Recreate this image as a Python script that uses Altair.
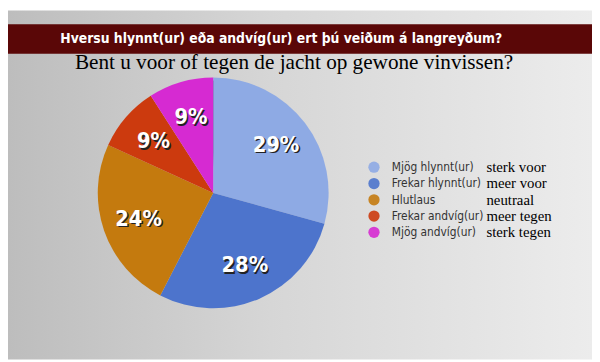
import altair as alt
import pandas as pd

cats_is = ["Mjög hlynnt(ur)", "Frekar hlynnt(ur)", "Hlutlaus", "Frekar andvíg(ur)", "Mjög andvíg(ur)"]
cats_nl = ["sterk voor", "meer voor", "neutraal", "meer tegen", "sterk tegen"]
values = [29, 28, 24, 9, 9]
labels = ["29%", "28%", "24%", "9%", "9%"]
colors = ["#8eaae4", "#4d74cc", "#c47a0e", "#cc3a0e", "#d62ad2"]

title_is = "Hversu hlynnt(ur) eða andvíg(ur) ert þú veiðum á langreyðum?"
title_nl = "Bent u voor of tegen de jacht op gewone vinvissen?"

COND = "'DejaVu Sans Condensed', 'Liberation Sans Narrow', Roboto, sans-serif"

W, H = 592, 354
df = pd.DataFrame({"cat": cats_is, "nl": cats_nl, "value": values,
                   "label": labels, "idx": list(range(len(values)))})

color_scale = alt.Scale(domain=cats_is, range=colors)
base = alt.Chart(df)

bg = alt.Chart(pd.DataFrame({"a": [0]})).mark_rect(
    color=alt.LinearGradient(gradient="linear", x1=0, x2=1, y1=0, y2=0,
                             stops=[alt.GradientStop(offset=0, color="#bdbdbd"),
                                    alt.GradientStop(offset=0.45, color="#d6d6d6"),
                                    alt.GradientStop(offset=1, color="#ececec")])
).encode(x=alt.value(0), x2=alt.value(W), y=alt.value(0), y2=alt.value(H))

bar = alt.Chart(pd.DataFrame({"a": [0]})).mark_rect(color="#5a0707").encode(
    x=alt.value(-10), x2=alt.value(W), y=alt.value(14), y2=alt.value(44))

t1 = alt.Chart(pd.DataFrame({"t": [title_is]})).mark_text(
    font=COND, fontWeight="bold", fontSize=14, color="white",
    align="center", baseline="middle").encode(
    x=alt.value(277), y=alt.value(29), text="t:N")

t2 = alt.Chart(pd.DataFrame({"t": [title_nl]})).mark_text(
    font="Liberation Serif", fontSize=21.5, color="black",
    align="center", baseline="middle").encode(
    x=alt.value(290), y=alt.value(53), text="t:N")

CX, CY, R = 208, 185, 117

shadow = alt.Chart(pd.DataFrame({"v": [1]})).mark_arc(
    radius=R, color="#202020", opacity=0.8).encode(
    theta=alt.Theta("v:Q"), x=alt.value(CX - 2), y=alt.value(CY + 3))

pie = base.mark_arc(radius=R).encode(
    theta=alt.Theta("value:Q", stack=True),
    color=alt.Color("cat:N", scale=color_scale, legend=None),
    order=alt.Order("idx:Q"),
    x=alt.value(CX), y=alt.value(CY))

lab_sh = base.mark_text(radius=80, font=COND, fontWeight="bold",
                        fontSize=22, color="#222222", dx=1.5, dy=1.5).encode(
    theta=alt.Theta("value:Q", stack=True), order=alt.Order("idx:Q"),
    text="label:N", x=alt.value(CX), y=alt.value(CY))
lab = base.mark_text(radius=80, font=COND, fontWeight="bold",
                     fontSize=22, color="white").encode(
    theta=alt.Theta("value:Q", stack=True), order=alt.Order("idx:Q"),
    text="label:N", x=alt.value(CX), y=alt.value(CY))

ypos = alt.Y("cat:N", scale=alt.Scale(type="point", domain=cats_is, range=[159, 225], padding=0),
             axis=None)

dots = base.mark_circle(size=130, opacity=0.9).encode(
    x=alt.value(371), y=ypos,
    color=alt.Color("cat:N", scale=color_scale, legend=None))

leg_is = base.mark_text(font=COND, fontSize=12, color="#333333",
                        align="left", baseline="middle").encode(
    x=alt.value(389), y=ypos, text="cat:N")
leg_nl = base.mark_text(font="Liberation Serif", fontSize=15, color="black",
                        align="left", baseline="middle").encode(
    x=alt.value(485), y=ypos, text="nl:N")

chart = alt.layer(bg, bar, t1, t2, shadow, pie, lab_sh, lab, dots, leg_is, leg_nl).properties(
    width=W, height=H, padding=0, autosize=alt.AutoSizeParams(type="none")
).configure_view(stroke=None)

chart.save("out.html", embed_options={"renderer": "svg", "actions": False})
